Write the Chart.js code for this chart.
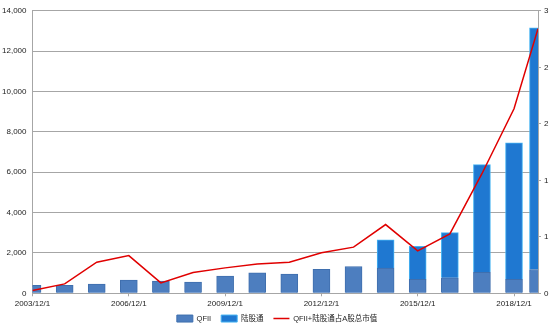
<!DOCTYPE html>
<html><head><meta charset="utf-8">
<script src="https://cdn.jsdelivr.net/npm/chart.js@4"></script>
<style>html,body{margin:0;padding:0;background:#fff;}#wrap{width:554px;height:326px;}</style>
</head><body><div id="wrap"><canvas id="c" width="554" height="326"></canvas></div>
<script>
const categories = ['2003/12/1','2004/12/1','2005/12/1','2006/12/1','2007/12/1','2008/12/1','2009/12/1','2010/12/1','2011/12/1','2012/12/1','2013/12/1','2014/12/1','2015/12/1','2016/12/1','2017/12/1','2018/12/1','2019/8/31'];
const qfiiValues = [395, 395, 460, 655, 605, 560, 855, 1020, 950, 1185, 1330, 1250, 690, 770, 1040, 690, 1180];
const hkConnectValues = [null, null, null, null, null, null, null, null, null, null, null, 1400, 1640, 2240, 5340, 6770, 11970];
const ratioValues = [0.03, 0.10, 0.33, 0.40, 0.11, 0.22, 0.27, 0.31, 0.33, 0.43, 0.49, 0.73, 0.45, 0.63, 1.27, 1.96, 2.81];
const xTickLabels = ['2003/12/1','2006/12/1','2009/12/1','2012/12/1','2015/12/1','2018/12/1'];
const seriesNames = ['QFII', '陆股通', 'QFII+陆股通占A股总市值'];

function toUTC(s){ const p = s.split('/').map(Number); return Date.UTC(p[0], p[1]-1, p[2]); }
const base = toUTC(categories[0]);
function toYears(s){ return (toUTC(s) - base) / (365.25*86400000); }
const xs = categories.map(toYears);
const pts = arr => arr.map((v,i) => ({x: xs[i], y: v}));

const FONT = "'Liberation Sans', Arial, 'Noto Sans CJK SC', sans-serif";
const GRID = '#a6a6a6';

const legendShift = {
  id: 'legendShift',
  afterLayout(chart) {
    const lg = chart.legend;
    if (lg) { lg.top -= 4.5; lg.height += 4.5; }
  }
};

new Chart(document.getElementById('c'), {
  type: 'bar',
  plugins: [legendShift],
  data: {
    datasets: [
      { label: seriesNames[0], data: pts(qfiiValues), backgroundColor: '#4d7ebf', borderColor: '#3f6fae', borderWidth: 1, yAxisID: 'y', stack: 'bars', order: 1, barThickness: 17, clip: 0, pointStyle: 'rect' },
      { label: seriesNames[1], data: pts(hkConnectValues), backgroundColor: '#1f78d1', borderColor: '#45b3f2', borderWidth: 1, yAxisID: 'y', stack: 'bars', order: 1, barThickness: 17, clip: 0, pointStyle: 'rect' },
      { type: 'line', label: seriesNames[2], data: pts(ratioValues), borderColor: '#e00000', backgroundColor: '#e00000', borderWidth: 1.5, pointRadius: 0, pointStyle: 'line', yAxisID: 'y1', order: 0, tension: 0 }
    ]
  },
  options: {
    responsive: false,
    animation: false,
    layout: { padding: { top: 10, left: 0, right: 0, bottom: 2 } },
    plugins: {
      tooltip: { enabled: false },
      legend: {
        position: 'bottom',
        maxHeight: 14.7,
        labels: {
          usePointStyle: true, pointStyleWidth: 16, boxHeight: 7, padding: 10,
          color: '#222', font: { size: 7.5, family: FONT },
          sort: (a, b) => a.datasetIndex - b.datasetIndex
        }
      }
    },
    scales: {
      x: {
        type: 'linear', stacked: true, offset: false,
        min: 0, max: xs[xs.length-1],
        afterBuildTicks: s => { s.ticks = xTickLabels.map(l => ({ value: toYears(l) })); },
        afterFit: s => { s.height = 16; },
        ticks: {
          color: '#222', font: { size: 8, family: FONT }, padding: 3, maxRotation: 0, autoSkip: false,
          callback: (v) => { const i = xTickLabels.findIndex(l => Math.abs(toYears(l) - v) < 1e-6); return i >= 0 ? xTickLabels[i] : ''; }
        },
        grid: { drawOnChartArea: false, drawTicks: true, tickLength: 3, color: GRID, offset: false },
        border: { color: GRID }
      },
      y: {
        position: 'left', stacked: true, min: 0, max: 14000,
        afterFit: s => { s.width = 32.5; },
        ticks: { stepSize: 2000, color: '#222', font: { size: 8, family: FONT }, padding: 6,
          callback: v => v.toLocaleString('en-US') },
        grid: { color: GRID, drawTicks: false },
        border: { color: GRID }
      },
      y1: {
        position: 'right', min: 0, max: 3,
        afterFit: s => { s.width = 16; },
        ticks: { stepSize: 0.6, color: '#222', font: { size: 8, family: FONT }, padding: 3,
          callback: v => String(Math.round(v)) },
        grid: { drawOnChartArea: false, drawTicks: true, tickLength: 3, color: GRID },
        border: { color: GRID }
      }
    }
  }
});
</script>
</body></html>
